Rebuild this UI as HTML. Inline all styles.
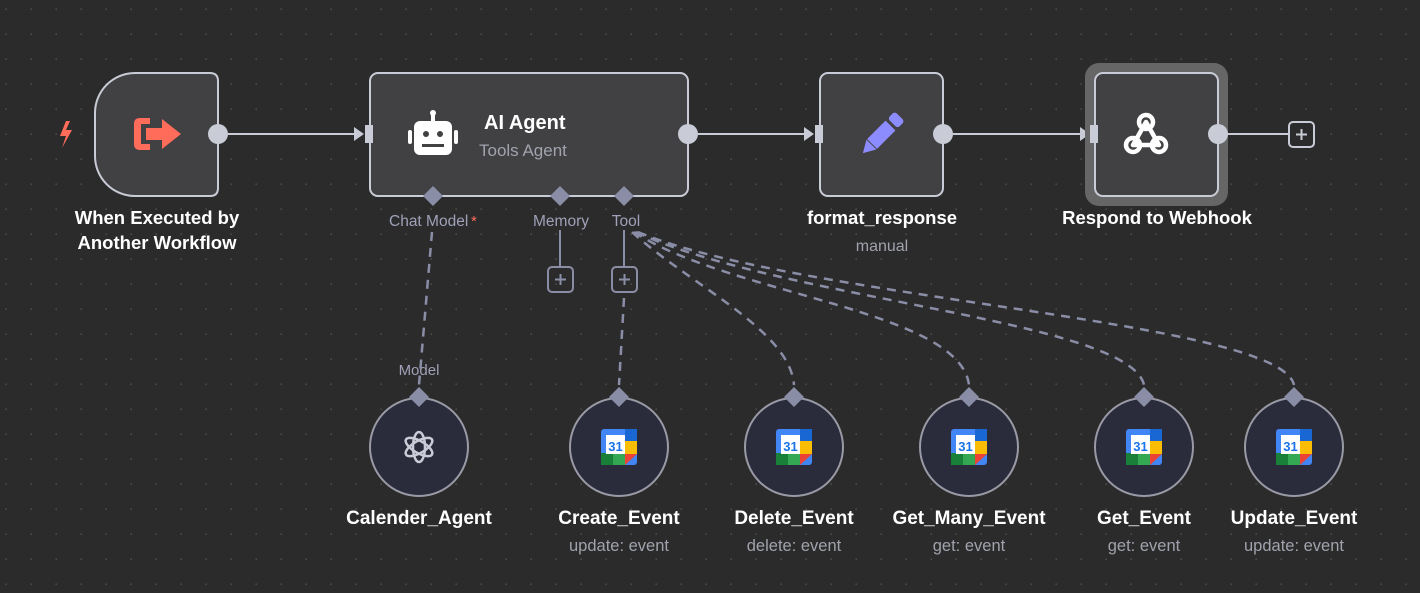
<!DOCTYPE html>
<html><head><meta charset="utf-8"><style>
html,body{margin:0;padding:0;background:#2b2b2b;}
svg{display:block;}
text{font-family:"Liberation Sans",sans-serif;}
</style></head><body>
<svg width="1420" height="593" viewBox="0 0 1420 593" xmlns="http://www.w3.org/2000/svg">
<defs>
<pattern id="dots" x="5" y="8" width="25" height="25" patternUnits="userSpaceOnUse">
<rect x="0.5" y="0.5" width="1.3" height="1.3" fill="#5a5a5a"/>
</pattern>
<g id="gcal">
<rect x="-18" y="-18" width="36" height="36" rx="3" fill="#4285f4"/>
<rect x="6" y="-18" width="12" height="12" fill="#1967d2"/>
<rect x="6" y="-6" width="12" height="13" fill="#fbbc04"/>
<rect x="-6" y="6" width="12" height="12" fill="#34a853"/>
<rect x="-18" y="6" width="12" height="12" fill="#188038"/>
<polygon points="6,7 18,7 6,18" fill="#ea4335"/>
<rect x="-13" y="-12" width="19" height="19" fill="#fff"/>
<text x="-3.5" y="4" font-size="13" font-weight="bold" fill="#1a73e8" text-anchor="middle">31</text>
</g>
</defs>
<rect width="1420" height="593" fill="#2b2b2b"/>
<rect width="1420" height="593" fill="url(#dots)"/>

<g stroke="#c9ccd6" stroke-width="2" fill="none">
<line x1="228" y1="134" x2="360" y2="134"/>
<line x1="698" y1="134" x2="810" y2="134"/>
<line x1="953" y1="134" x2="1086" y2="134"/>
<line x1="1228" y1="134" x2="1288" y2="134"/>
</g>
<g fill="#c9ccd6">
<polygon points="354,127 364,134 354,141"/>
<polygon points="804,127 814,134 804,141"/>
<polygon points="1080,127 1090,134 1080,141"/>
</g>

<path d="M95,113 A40,40 0 0 1 135,73 L210,73 Q218,73 218,81 L218,188 Q218,196 210,196 L135,196 A40,40 0 0 1 95,156 Z" fill="#414144" stroke="#c9ccd6" stroke-width="2"/>
<path d="M66,121 L60,136 L66,136 L62,148 L72,130 L66,130 L70,121 Z" fill="#ff6d5a"/>
<g fill="#ff6d5a">
<path d="M150,118 L140,118 Q134,118 134,124 L134,144 Q134,150 140,150 L150,150 L150,144 L141,144 L141,124 L150,124 Z"/>
<polygon points="146,128 162,128 162,119 181,134 162,149 162,140 146,140"/>
</g>
<circle cx="218" cy="134" r="10" fill="#c9ccd6"/>
<text x="157" y="224" font-size="18.5" font-weight="bold" fill="#fff" text-anchor="middle">When Executed by</text>
<text x="157" y="249" font-size="18.5" font-weight="bold" fill="#fff" text-anchor="middle">Another Workflow</text>

<rect x="370" y="73" width="318" height="123" rx="8" fill="#414144" stroke="#c9ccd6" stroke-width="2"/>
<rect x="365" y="125" width="8" height="18" fill="#c9ccd6"/>
<g fill="#fff">
<rect x="414" y="121" width="38" height="34" rx="6"/>
<rect x="408" y="130" width="4" height="14" rx="2"/>
<rect x="454" y="130" width="4" height="14" rx="2"/>
<rect x="431" y="114" width="4" height="8"/>
<circle cx="433" cy="113" r="3"/>
</g>
<circle cx="426" cy="134" r="3" fill="#414144"/>
<circle cx="440" cy="134" r="3" fill="#414144"/>
<rect x="422" y="144" width="22" height="3" fill="#414144"/>
<text x="484" y="129" font-size="20" font-weight="bold" fill="#fff">AI Agent</text>
<text x="479" y="156" font-size="17" fill="#a0a3ad">Tools Agent</text>
<circle cx="688" cy="134" r="10" fill="#c9ccd6"/>

<g fill="#8a8da6">
<polygon points="433,186 443,196 433,206 423,196"/>
<polygon points="560,186 570,196 560,206 550,196"/>
<polygon points="624,186 634,196 624,206 614,196"/>
</g>
<text x="389" y="226" font-size="15.5" fill="#9ea1b8">Chat Model</text><text x="471" y="226" font-size="15" fill="#ff6d5a">*</text>
<text x="561" y="226" font-size="15.5" fill="#9ea1b8" text-anchor="middle">Memory</text>
<text x="626" y="226" font-size="15.5" fill="#9ea1b8" text-anchor="middle">Tool</text>
<g stroke="#8a8da6" stroke-width="2" fill="none">
<line x1="560" y1="230" x2="560" y2="267"/>
<line x1="624" y1="230" x2="624" y2="267"/>
<rect x="548" y="267" width="25" height="25" rx="4"/>
<rect x="612" y="267" width="25" height="25" rx="4"/>
<rect x="1289" y="122" width="25" height="25" rx="4" stroke="#c9ccd6"/>
</g>
<g stroke="#c9ccd6" stroke-width="2">
<line x1="1296" y1="134.5" x2="1307" y2="134.5"/><line x1="1301.5" y1="129" x2="1301.5" y2="140"/>
</g>
<g stroke="#8a8da6" stroke-width="2">
<line x1="555" y1="279.5" x2="566" y2="279.5"/><line x1="560.5" y1="274" x2="560.5" y2="285"/>
<line x1="619" y1="279.5" x2="630" y2="279.5"/><line x1="624.5" y1="274" x2="624.5" y2="285"/>
</g>

<g stroke="#8a8da6" stroke-width="2.5" fill="none" stroke-dasharray="9,7">
<path d="M432,232 L419,385"/>
<path d="M624,298 L619,385"/>
<path d="M632,232 C690,285 790,330 794,385"/>
<path d="M634,232 C730,295 960,310 969,385"/>
<path d="M636,232 C780,300 1130,320 1144,385"/>
<path d="M638,232 C800,300 1280,320 1294,385"/>
</g>
<text x="419" y="375" font-size="15" fill="#9ea1b8" text-anchor="middle">Model</text>

<rect x="820" y="73" width="123" height="123" rx="8" fill="#414144" stroke="#c9ccd6" stroke-width="2"/>
<rect x="815" y="125" width="8" height="18" fill="#c9ccd6"/>
<g transform="translate(882,134) rotate(45)">
<rect x="-7" y="-25" width="14" height="10" rx="3" fill="#8c8cff"/>
<rect x="-7" y="-12" width="14" height="26" fill="#8c8cff"/>
<polygon points="-7,15 7,15 0,27" fill="#8c8cff"/>
</g>
<circle cx="943" cy="134" r="10" fill="#c9ccd6"/>
<text x="882" y="224" font-size="18.5" font-weight="bold" fill="#fff" text-anchor="middle">format_response</text>
<text x="882" y="251" font-size="16" fill="#a0a3ad" text-anchor="middle">manual</text>

<rect x="1085" y="63" width="143" height="143" rx="14" fill="#666"/>
<rect x="1095" y="73" width="123" height="123" rx="8" fill="#414144" stroke="#c9ccd6" stroke-width="2"/>
<rect x="1090" y="125" width="8" height="18" fill="#c9ccd6"/>
<g stroke="#fff" stroke-width="4.5" fill="none" stroke-linecap="round">
<circle cx="1146" cy="122" r="7"/>
<circle cx="1133" cy="145" r="7"/>
<circle cx="1159" cy="145" r="7"/>
<path d="M1146,122 L1133,145 M1146,122 L1159,145 M1133,145 L1159,145"/>
</g>
<circle cx="1218" cy="134" r="10" fill="#c9ccd6"/>
<text x="1157" y="224" font-size="18.5" font-weight="bold" fill="#fff" text-anchor="middle">Respond to Webhook</text>

<g fill="#2a2b3b" stroke="#9a9aa6" stroke-width="2">
<circle cx="419" cy="447" r="49"/>
<circle cx="619" cy="447" r="49"/>
<circle cx="794" cy="447" r="49"/>
<circle cx="969" cy="447" r="49"/>
<circle cx="1144" cy="447" r="49"/>
<circle cx="1294" cy="447" r="49"/>
</g>
<g fill="#8a8da6">
<polygon points="419,387 429,397 419,407 409,397"/>
<polygon points="619,387 629,397 619,407 609,397"/>
<polygon points="794,387 804,397 794,407 784,397"/>
<polygon points="969,387 979,397 969,407 959,397"/>
<polygon points="1144,387 1154,397 1144,407 1134,397"/>
<polygon points="1294,387 1304,397 1294,407 1284,397"/>
</g>
<g stroke="#c9ccd6" stroke-width="2.5" fill="none">
<g transform="translate(419,447)">
<ellipse rx="6" ry="15"/>
<ellipse rx="6" ry="15" transform="rotate(60)"/>
<ellipse rx="6" ry="15" transform="rotate(120)"/>
</g>
</g>
<use href="#gcal" x="619" y="447"/>
<use href="#gcal" x="794" y="447"/>
<use href="#gcal" x="969" y="447"/>
<use href="#gcal" x="1144" y="447"/>
<use href="#gcal" x="1294" y="447"/>
<g font-size="19" font-weight="bold" fill="#fff" text-anchor="middle">
<text x="419" y="524">Calender_Agent</text>
<text x="619" y="524">Create_Event</text>
<text x="794" y="524">Delete_Event</text>
<text x="969" y="524">Get_Many_Event</text>
<text x="1144" y="524">Get_Event</text>
<text x="1294" y="524">Update_Event</text>
</g>
<g font-size="16.5" fill="#a0a3ad" text-anchor="middle">
<text x="619" y="551">update: event</text>
<text x="794" y="551">delete: event</text>
<text x="969" y="551">get: event</text>
<text x="1144" y="551">get: event</text>
<text x="1294" y="551">update: event</text>
</g>
</svg>
</body></html>
